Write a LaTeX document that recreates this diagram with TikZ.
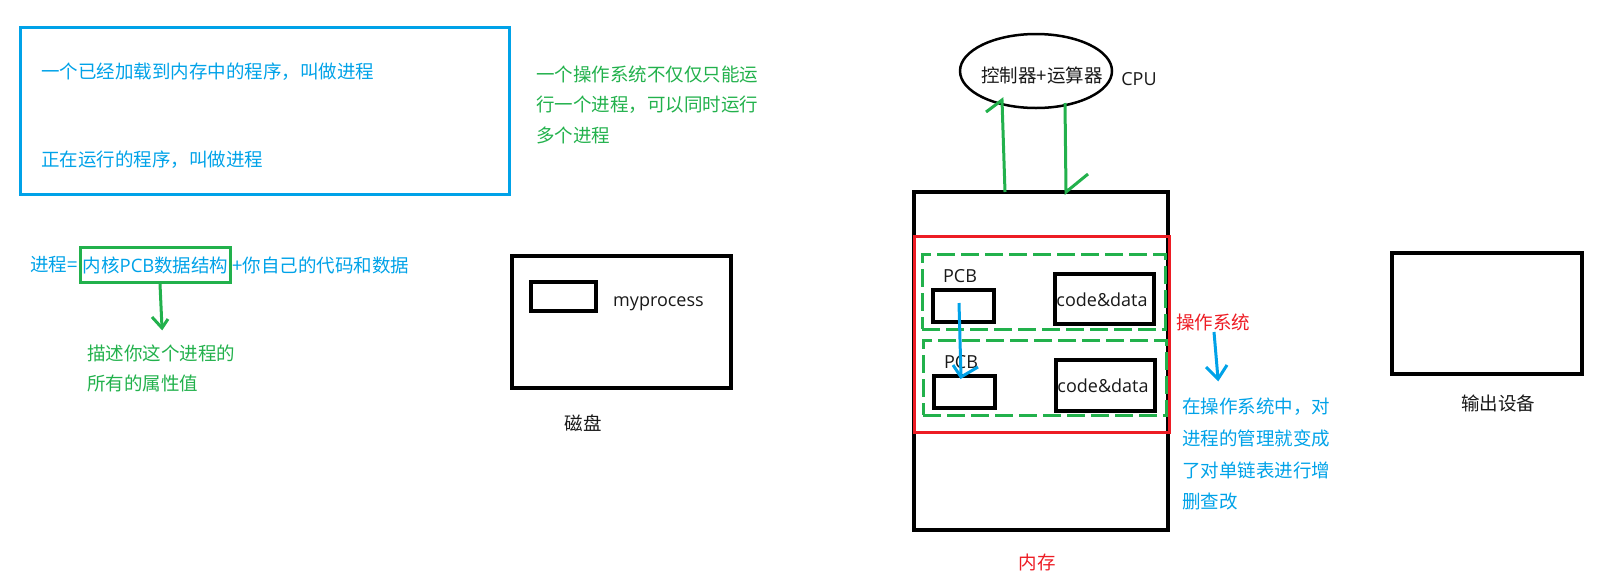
\documentclass[tikz,border=0pt]{standalone}
\usepackage{fontspec}
\setmainfont{Open Sans}
\newfontfamily\cjk{Noto Sans CJK SC}
\newfontfamily\lat{Open Sans}
\usetikzlibrary{shapes.geometric}
\definecolor{pblue}{RGB}{0,162,232}
\definecolor{pgreen}{RGB}{34,177,76}
\definecolor{pred}{RGB}{237,28,36}
\definecolor{ink}{RGB}{25,25,25}
\begin{document}
\begin{tikzpicture}[x=1pt,y=-1pt,
  cj/.style={font=\cjk\fontsize{18.5}{22}\selectfont, inner sep=0pt},
  lt/.style={font=\lat\fontsize{18}{22}\selectfont, inner sep=0pt, text=ink},
  bbox/.style={draw=black, line width=3.5pt, inner sep=0pt},
  gdash/.style={draw=pgreen, line width=3pt, dash pattern=on 18pt off 6pt, inner sep=0pt},
  garrow/.style={draw=pgreen, line width=3pt},
  barrow/.style={draw=pblue, line width=3pt}]
\useasboundingbox (0,0) rectangle (1597,579);

% top-left definition box
\node[draw=pblue, line width=3pt, minimum width=489pt, minimum height=167pt, inner sep=0pt] (defbox) at (264.5,110.5) {};
\node[cj, text=pblue, anchor=west] (def1) at (41,72) {一个已经加载到内存中的程序，叫做进程};
\node[cj, text=pblue, anchor=west] (def2) at (41,160) {正在运行的程序，叫做进程};

% formula
\node[cj, text=pblue, anchor=west] (f1) at (30,265) {进程=};
\node[cj, text=pblue, anchor=west, draw=pgreen, line width=3pt, inner xsep=2.5pt, inner ysep=9pt] (f2) at ([xshift=1pt]f1.east) {内核{\lat PCB}数据结构};
\node[cj, text=pblue, anchor=west] (f3) at (f2.east) {+你自己的代码和数据};
\coordinate (fa) at (162,328);
\draw[garrow] (f2.south -| 160,0) -- (fa);
\draw[garrow] (152,317) -- (fa) -- (168,319);
\node[cj, text=pgreen, anchor=west] (desc1) at (87,353) {描述你这个进程的};
\node[cj, text=pgreen, anchor=west] (desc2) at (87,383) {所有的属性值};

% green multi-process note
\node[cj, text=pgreen, anchor=west] (os1) at (536,74) {一个操作系统不仅仅只能运};
\node[cj, text=pgreen, anchor=west] (os2) at (536,105) {行一个进程，可以同时运行};
\node[cj, text=pgreen, anchor=west] (os3) at (536,135) {多个进程};

% disk
\node[bbox, minimum width=219pt, minimum height=132pt] (disk) at (621.5,322) {};
\node[bbox, minimum width=65pt, minimum height=29pt] (prog) at (563.5,296.5) {};
\node[lt, anchor=west] (progname) at (613,304) {myprocess};
\node[cj, text=ink] (disklbl) at (583,423) {磁盘};

% CPU
\node[draw=black, line width=2.5pt, ellipse, minimum width=152pt, minimum height=74pt, inner sep=0pt] (cpu) at (1036,71) {};
\node[cj, text=ink] (cputxt) at (1042,75) {控制器+运算器};
\node[lt] (cpulbl) at (1139,79) {CPU};

% memory
\node[bbox, minimum width=254pt, minimum height=338pt] (mem) at (1041,361) {};
\node[draw=pred, line width=3pt, minimum width=255pt, minimum height=196pt, inner sep=0pt] (osarea) at (1041.5,334) {};
\node[gdash, minimum width=243pt, minimum height=75pt] (proc1) at (1043.5,291.5) {};
\node[gdash, minimum width=243pt, minimum height=75pt] (proc2) at (1044.5,377.5) {};
\node[bbox, minimum width=61pt, minimum height=32pt] (pcb1) at (963.5,306) {};
\node[lt] (pcb1lbl) at (960,276) {PCB};
\node[bbox, minimum width=99pt, minimum height=50pt] (cd1) at (1104.5,299) {};
\node[lt] (cd1lbl) at (1102,300) {code\&data};
\node[bbox, minimum width=61pt, minimum height=32pt] (pcb2) at (964.5,392) {};
\node[lt] (pcb2lbl) at (961,362) {PCB};
\node[bbox, minimum width=99pt, minimum height=51pt] (cd2) at (1105.5,385.5) {};
\node[lt] (cd2lbl) at (1103,386) {code\&data};
\node[cj, text=pred] (memlbl) at (1037,562) {内存};

% PCB link arrow
\coordinate (pl1) at (959,303);
\coordinate (pl2) at (961,377);
\draw[barrow] (pl1) -- (pl2);
\draw[barrow] (953,365) -- (pl2) -- (978,367);

% CPU <-> memory arrows
\coordinate (up1) at (1005,192);
\coordinate (up2) at (1002,100);
\draw[garrow] (up1) -- (up2) -- (986,112);
\coordinate (dn1) at (1065,103);
\coordinate (dn2) at (1066,192);
\draw[garrow] (dn1) -- (dn2) -- (1088,174);

% OS label and note
\node[cj, text=pred, anchor=west] (oslbl) at (1176,322) {操作系统};
\coordinate (oa1) at (1214,332);
\coordinate (oa2) at (1218,379);
\draw[barrow] (oa1) -- (oa2);
\draw[barrow] (1206,367) -- (oa2) -- (1227,365);
\node[cj, text=pblue, anchor=west] (n1) at (1182,407) {在操作系统中，对};
\node[cj, text=pblue, anchor=west] (n2) at (1182,438) {进程的管理就变成};
\node[cj, text=pblue, anchor=west] (n3) at (1182,470) {了对单链表进行增};
\node[cj, text=pblue, anchor=west] (n4) at (1182,501) {删查改};

% output device
\node[bbox, minimum width=190pt, minimum height=121pt] (outdev) at (1487,313.5) {};
\node[cj, text=ink] (outlbl) at (1498,403) {输出设备};
\end{tikzpicture}
\end{document}
